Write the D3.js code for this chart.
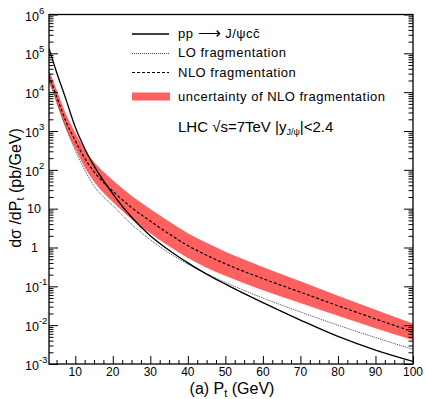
<!DOCTYPE html>
<html>
<head>
<meta charset="utf-8">
<script src="https://cdn.jsdelivr.net/npm/d3@7"></script>
<style>
  body { margin: 0; background: #fff; }
  svg text { font-family: "Liberation Sans", Arial, Helvetica, sans-serif; fill: #000; }
</style>
</head>
<body>
<div id="chart"></div>
<script>
// transverse momentum grid (GeV)
const ptValues = [3, 5, 7.5, 10, 12.5, 15, 17.5, 20, 25, 30, 35, 40, 45, 50, 60, 70, 80, 90, 100];
// pp -> J/psi c cbar (pb/GeV)
const directValues = [1.32e5, 3.31e4, 6.61e3, 1.26e3, 355, 126, 52.5, 24.0, 6.03, 2.02, 0.851, 0.403, 0.207, 0.114, 0.038, 0.0135, 0.00513, 0.00229, 0.00117];
// LO fragmentation
const loValues = [2.24e4, 6.03e3, 1.26e3, 316, 100, 38.0, 20.0, 12.0, 3.98, 1.58, 0.724, 0.372, 0.209, 0.126, 0.0501, 0.0219, 0.01, 0.00479, 0.0024];
// NLO fragmentation, central value and uncertainty band
const nloValues = [2.63e4, 7.94e3, 1.78e3, 562, 200, 89.1, 47.9, 28.2, 10.7, 4.79, 2.24, 1.12, 0.631, 0.380, 0.158, 0.0708, 0.0316, 0.0145, 0.00676];
const nloHigh = [3.72e4, 1.17e4, 2.75e3, 912, 339, 158, 89.1, 53.7, 21.4, 9.77, 4.68, 2.34, 1.32, 0.776, 0.316, 0.135, 0.0575, 0.0251, 0.011];
const nloLow = [1.86e4, 5.37e3, 1.15e3, 347, 117, 50.1, 25.7, 14.8, 5.37, 2.34, 1.07, 0.537, 0.302, 0.186, 0.0794, 0.0372, 0.0174, 0.00832, 0.00417];

const xTicks = [10, 20, 30, 40, 50, 60, 70, 80, 90, 100];
const yExponents = [-3, -2, -1, 0, 1, 2, 3, 4, 5, 6];

const dims = { width: 425, height: 399, left: 49, right: 413, top: 14.5, bottom: 364 };

const svg = d3.select('#chart').append('svg')
  .attr('width', dims.width)
  .attr('height', dims.height);

const bandColor = '#ff6060';

const x = d3.scaleLinear().domain([3, 100]).range([dims.left, dims.right]);
const y = d3.scaleLog().domain([1e-3, 1e6]).range([dims.bottom, dims.top]);

const plot = svg.append('g');
plot.append('clipPath').attr('id', 'clip')
  .append('rect')
  .attr('x', dims.left).attr('y', dims.top)
  .attr('width', dims.right - dims.left).attr('height', dims.bottom - dims.top);

const body = plot.append('g').attr('clip-path', 'url(#clip)');

const band = d3.area()
  .x((d, i) => x(ptValues[i]))
  .y0((d, i) => y(nloLow[i]))
  .y1((d, i) => y(nloHigh[i]))
  .curve(d3.curveMonotoneX);

body.append('path')
  .datum(ptValues)
  .attr('d', band)
  .attr('fill', bandColor);

const lineOf = vals => d3.line()
  .x((d, i) => x(ptValues[i]))
  .y((d, i) => y(vals[i]))
  .curve(d3.curveMonotoneX)(ptValues);

body.append('path').attr('d', lineOf(loValues))
  .attr('fill', 'none').attr('stroke', '#444').attr('stroke-width', 1)
  .attr('stroke-dasharray', '1,1');
body.append('path').attr('d', lineOf(nloValues))
  .attr('fill', 'none').attr('stroke', '#000').attr('stroke-width', 1.2)
  .attr('stroke-dasharray', '3,2');
body.append('path').attr('d', lineOf(directValues))
  .attr('fill', 'none').attr('stroke', '#000').attr('stroke-width', 1.3);

// minor tick values
const yMinor = [];
for (let e = -3; e < 6; e++) for (let m = 2; m <= 9; m++) yMinor.push(m * Math.pow(10, e));
const xMinor = d3.range(5, 100.1, 2.5).filter(v => v % 10 !== 0);

const noLabel = () => '';
const axisGroup = svg.append('g');

axisGroup.append('g').attr('transform', `translate(${dims.left},0)`)
  .call(d3.axisLeft(y).tickValues(yExponents.map(e => Math.pow(10, e))).tickFormat(noLabel).tickSize(-9));
axisGroup.append('g').attr('transform', `translate(${dims.left},0)`)
  .call(d3.axisLeft(y).tickValues(yMinor).tickFormat(noLabel).tickSize(-4.5));
axisGroup.append('g').attr('transform', `translate(${dims.right},0)`)
  .call(d3.axisRight(y).tickValues(yExponents.map(e => Math.pow(10, e))).tickFormat(noLabel).tickSize(-9));
axisGroup.append('g').attr('transform', `translate(${dims.right},0)`)
  .call(d3.axisRight(y).tickValues(yMinor).tickFormat(noLabel).tickSize(-4.5));
axisGroup.append('g').attr('transform', `translate(0,${dims.bottom})`)
  .call(d3.axisBottom(x).tickValues(xTicks).tickFormat(noLabel).tickSize(-8));
axisGroup.append('g').attr('transform', `translate(0,${dims.bottom})`)
  .call(d3.axisBottom(x).tickValues(xMinor).tickFormat(noLabel).tickSize(-4));

axisGroup.selectAll('.domain').remove();
axisGroup.selectAll('line').attr('stroke', '#000').attr('stroke-width', 1);

svg.append('rect')
  .attr('x', dims.left).attr('y', dims.top)
  .attr('width', dims.right - dims.left).attr('height', dims.bottom - dims.top)
  .attr('fill', 'none').attr('stroke', '#000').attr('stroke-width', 1.3);

// x tick labels
svg.append('g').selectAll('text')
  .data(xTicks)
  .join('text')
  .attr('x', d => x(d))
  .attr('y', 376)
  .attr('text-anchor', 'middle')
  .attr('font-size', 12)
  .text(d => d);

// y tick labels 10^n
const yl = svg.append('g').selectAll('text')
  .data(yExponents)
  .join('text')
  .attr('font-size', 12.5);
yl.each(function (e) {
  const t = d3.select(this);
  const yy = y(Math.pow(10, e));
  if (e === 0) {
    t.attr('x', 38).attr('y', yy + 4.5).attr('text-anchor', 'end').text('1');
  } else if (e === 1) {
    t.attr('x', 41).attr('y', yy + 4.5).attr('text-anchor', 'end').text('10');
  } else {
    t.attr('x', 25).attr('y', yy + 6);
    t.append('tspan').text('10');
    t.append('tspan').attr('dy', -7).attr('font-size', 9.5).text(e);
  }
});

// axis titles
const xt = svg.append('text')
  .attr('x', 232).attr('y', 394)
  .attr('text-anchor', 'middle')
  .attr('font-size', 16);
xt.append('tspan').text('(a) P');
xt.append('tspan').attr('font-size', 11).attr('dy', 3).text('t');
xt.append('tspan').attr('dy', -3).text(' (GeV)');

const yt = svg.append('text')
  .attr('transform', 'translate(21,188) rotate(-90)')
  .attr('text-anchor', 'middle')
  .attr('font-size', 16);
yt.append('tspan').text('dσ /dP');
yt.append('tspan').attr('font-size', 11).attr('dy', 3).text('t');
yt.append('tspan').attr('dy', -3).text(' (pb/GeV)');

// legend
const legend = svg.append('g');
const lx0 = 132, lx1 = 169, tx = 178;
legend.append('line').attr('x1', lx0).attr('x2', lx1).attr('y1', 34).attr('y2', 34)
  .attr('stroke', '#000').attr('stroke-width', 1.3);
legend.append('line').attr('x1', lx0).attr('x2', lx1).attr('y1', 53.5).attr('y2', 53.5)
  .attr('stroke', '#444').attr('stroke-width', 1).attr('stroke-dasharray', '1,1');
legend.append('line').attr('x1', lx0).attr('x2', lx1).attr('y1', 72.5).attr('y2', 72.5)
  .attr('stroke', '#000').attr('stroke-width', 1.2).attr('stroke-dasharray', '3,2');
legend.append('rect').attr('x', lx0).attr('y', 92.5).attr('width', 38).attr('height', 8)
  .attr('fill', bandColor);

const legendFont = 13;
const legendSpacing = '0.5px';
const l1 = legend.append('text').attr('x', tx).attr('y', 38).attr('font-size', legendFont)
  .attr('letter-spacing', legendSpacing);
l1.append('tspan').text('pp ');
l1.append('tspan').attr('font-size', 16).text('⟶');
l1.append('tspan').text(' J/ψcc\u0304');
legend.append('text').attr('x', tx).attr('y', 57).attr('font-size', legendFont)
  .attr('letter-spacing', legendSpacing).text('LO fragmentation');
legend.append('text').attr('x', tx).attr('y', 76.5).attr('font-size', legendFont)
  .attr('letter-spacing', legendSpacing).text('NLO fragmentation');
legend.append('text').attr('x', tx).attr('y', 101).attr('font-size', legendFont)
  .attr('letter-spacing', legendSpacing).text('uncertainty of NLO fragmentation');

const lhc = legend.append('text').attr('x', tx).attr('y', 131.5).attr('font-size', 15);
lhc.append('tspan').text('LHC  √s=7TeV  |y');
lhc.append('tspan').attr('font-size', 9).attr('dy', 3).text('J/ψ');
lhc.append('tspan').attr('dy', -3).text('|<2.4');
</script>
</body>
</html>
